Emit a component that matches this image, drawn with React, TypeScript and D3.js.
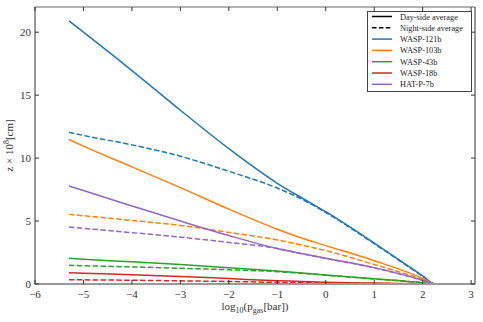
import React, { useRef, useEffect } from "react";
import * as d3 from "d3";

// log10(p_gas) sample points
const logP = [-5.3, -5, -4, -3, -2, -1, -0.5, 0, 1, 2, 2.25, 3];

const planets = ["WASP-121b", "WASP-103b", "WASP-43b", "WASP-18b", "HAT-P-7b"];
const colors = ["#1f77b4", "#ff7f0e", "#2ca02c", "#d62728", "#9467bd"];

// day-side average z (1e8 cm)
const dayWasp121 = [20.9, 20.0, 16.95, 13.8, 10.75, 8.0, 6.85, 5.74, 3.25, 0.65, 0, 0];
const dayWasp103 = [11.48, 10.95, 9.3, 7.65, 5.95, 4.35, 3.65, 3.05, 1.85, 0.45, 0, 0];
const dayWasp43 = [2.04, 1.97, 1.76, 1.54, 1.3, 1.03, 0.88, 0.72, 0.42, 0.1, 0, 0];
const dayWasp18 = [0.9, 0.86, 0.74, 0.6, 0.43, 0.26, 0.2, 0.14, 0.07, 0.02, 0, 0];
const dayHatP7 = [7.78, 7.42, 6.2, 5.0, 3.85, 2.82, 2.42, 2.05, 1.3, 0.3, 0, 0];

// night-side average z (1e8 cm)
const nightWasp121 = [12.05, 11.8, 11.05, 10.15, 8.95, 7.62, 6.75, 5.68, 3.2, 0.62, 0, 0];
const nightWasp103 = [5.53, 5.42, 5.05, 4.65, 4.1, 3.5, 3.1, 2.65, 1.55, 0.35, 0, 0];
const nightWasp43 = [1.48, 1.45, 1.36, 1.25, 1.13, 0.98, 0.85, 0.7, 0.4, 0.1, 0, 0];
const nightWasp18 = [0.34, 0.33, 0.3, 0.25, 0.2, 0.13, 0.1, 0.08, 0.04, 0.01, 0, 0];
const nightHatP7 = [4.52, 4.42, 4.08, 3.72, 3.3, 2.82, 2.4, 2.03, 1.28, 0.29, 0, 0];

const daySeries = [dayWasp121, dayWasp103, dayWasp43, dayWasp18, dayHatP7];
const nightSeries = [nightWasp121, nightWasp103, nightWasp43, nightWasp18, nightHatP7];

const xTicks = [-6, -5, -4, -3, -2, -1, 0, 1, 2, 3];
const yTicks = [0, 5, 10, 15, 20];

export default function App() {
  const ref = useRef<SVGSVGElement | null>(null);

  useEffect(() => {
    const width = 483;
    const height = 322;
    const margin = { top: 7, right: 8, bottom: 38, left: 35 };
    const font = "'Liberation Serif', 'DejaVu Serif', serif";

    const x = d3
      .scaleLinear()
      .domain([-6, 3.08])
      .range([margin.left, width - margin.right]);
    const y = d3
      .scaleLinear()
      .domain([0, 22])
      .range([height - margin.bottom, margin.top]);

    const svg = d3.select(ref.current);
    svg.selectAll("*").remove();

    const line = d3
      .line<number>()
      .x((d, i) => x(logP[i]))
      .y((d) => y(d))
      .curve(d3.curveMonotoneX);

    const plot = svg.append("g");

    // night-side first (dashed), then day-side (solid)
    nightSeries.forEach((s, i) => {
      plot
        .append("path")
        .attr("d", line(s))
        .attr("fill", "none")
        .attr("stroke", colors[i])
        .attr("stroke-width", 1.5)
        .attr("stroke-dasharray", "5.5,2.4");
    });
    daySeries.forEach((s, i) => {
      plot
        .append("path")
        .attr("d", line(s))
        .attr("fill", "none")
        .attr("stroke", colors[i])
        .attr("stroke-width", 1.5);
    });

    // frame
    const x0 = margin.left;
    const x1 = width - margin.right;
    const y0 = height - margin.bottom;
    const y1 = margin.top;
    svg.append("line").attr("x1", x0).attr("x2", x1).attr("y1", y0).attr("y2", y0)
      .attr("stroke", "#999").attr("stroke-width", 2);
    svg.append("line").attr("x1", x0).attr("x2", x1).attr("y1", y1).attr("y2", y1)
      .attr("stroke", "#999").attr("stroke-width", 1.6);
    svg.append("line").attr("x1", x0).attr("x2", x0).attr("y1", y1).attr("y2", y0)
      .attr("stroke", "#333").attr("stroke-width", 1);
    svg.append("line").attr("x1", x1).attr("x2", x1).attr("y1", y1).attr("y2", y0)
      .attr("stroke", "#333").attr("stroke-width", 1);

    // inward ticks on all sides
    const ticks = svg.append("g").attr("stroke", "#333").attr("stroke-width", 1);
    xTicks.forEach((t) => {
      ticks.append("line").attr("x1", x(t)).attr("x2", x(t)).attr("y1", y0).attr("y2", y0 - 4);
      ticks.append("line").attr("x1", x(t)).attr("x2", x(t)).attr("y1", y1).attr("y2", y1 + 4);
    });
    yTicks.forEach((t) => {
      ticks.append("line").attr("x1", x0).attr("x2", x0 + 4).attr("y1", y(t)).attr("y2", y(t));
      ticks.append("line").attr("x1", x1).attr("x2", x1 - 4).attr("y1", y(t)).attr("y2", y(t));
    });

    // tick labels
    svg
      .append("g")
      .selectAll("text")
      .data(xTicks)
      .enter()
      .append("text")
      .attr("x", (d) => x(d))
      .attr("y", y0 + 14)
      .attr("text-anchor", "middle")
      .attr("font-family", font)
      .attr("font-size", 11)
      .attr("fill", "#333")
      .text((d) => (d < 0 ? "\u2212" + Math.abs(d) : String(d)));

    svg
      .append("g")
      .selectAll("text")
      .data(yTicks)
      .enter()
      .append("text")
      .attr("x", x0 - 4)
      .attr("y", (d) => y(d) + 4)
      .attr("text-anchor", "end")
      .attr("font-family", font)
      .attr("font-size", 11)
      .attr("fill", "#333")
      .text((d) => String(d));

    // axis labels
    const xl = svg
      .append("text")
      .attr("x", (x0 + x1) / 2)
      .attr("y", height - 12)
      .attr("text-anchor", "middle")
      .attr("font-family", font)
      .attr("font-size", 11)
      .attr("fill", "#333");
    xl.append("tspan").text("log");
    xl.append("tspan").attr("font-size", 8).attr("dy", 3).text("10");
    xl.append("tspan").attr("dy", -3).text("(p");
    xl.append("tspan").attr("font-size", 8).attr("dy", 3).text("gas");
    xl.append("tspan").attr("dy", -3).text("[bar])");

    const yl = svg
      .append("text")
      .attr("transform", `translate(13, ${(y0 + y1) / 2}) rotate(-90)`)
      .attr("text-anchor", "middle")
      .attr("font-family", font)
      .attr("font-size", 11)
      .attr("fill", "#333");
    yl.append("tspan").text("z \u00d7 10");
    yl.append("tspan").attr("font-size", 8).attr("dy", -4).text("8");
    yl.append("tspan").attr("dy", 4).text("[cm]");

    // legend
    const lg = svg.append("g");
    lg.append("rect")
      .attr("x", 367.5)
      .attr("y", 11.5)
      .attr("width", 104)
      .attr("height", 80)
      .attr("fill", "#fff")
      .attr("stroke", "#444")
      .attr("stroke-width", 1);
    const entries = [
      { label: "Day-side average", color: "#000", dash: null as string | null },
      { label: "Night-side average", color: "#000", dash: "4.5,2.4" },
      ...planets.map((p, i) => ({ label: p, color: colors[i], dash: null as string | null })),
    ];
    entries.forEach((e, i) => {
      const cy = 16.5 + i * 11.3;
      const l = lg
        .append("line")
        .attr("x1", 372)
        .attr("x2", 392)
        .attr("y1", cy)
        .attr("y2", cy)
        .attr("stroke", e.color)
        .attr("stroke-width", 1.5);
      if (e.dash) l.attr("stroke-dasharray", e.dash);
      lg.append("text")
        .attr("x", 400)
        .attr("y", cy + 3)
        .attr("font-family", font)
        .attr("font-size", 8.3)
        .attr("fill", "#222")
        .text(e.label);
    });
  }, []);

  return (
    <svg
      ref={ref}
      width={483}
      height={322}
      style={{ position: "absolute", left: 0, top: 0, background: "#fff" }}
    />
  );
}
